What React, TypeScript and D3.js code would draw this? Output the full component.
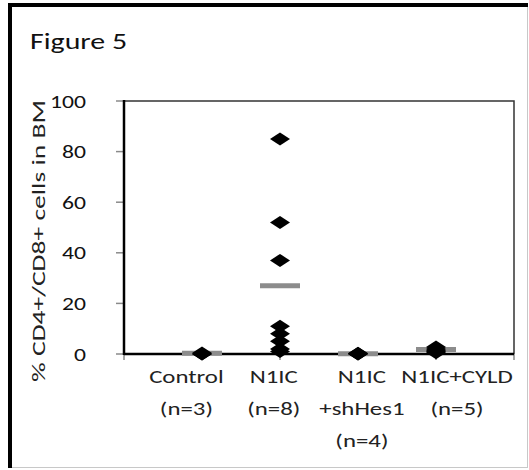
import React from 'react';
import * as d3 from 'd3';

// groups shown along the x axis (x position = 1..4)
const groups = ["Control", "N1IC", "N1IC+shHes1", "N1IC+CYLD"];
const labelLines = [
  ["Control", "(n=3)"],
  ["N1IC", "(n=8)"],
  ["N1IC", "+shHes1", "(n=4)"],
  ["N1IC+CYLD", "(n=5)"],
];
// where the text boxes sit, in x-axis units
const labelPos = [0.8, 1.92, 3.05, 4.27];

// % CD4+/CD8+ cells in BM
const controlVals = [0, 0, 0.4];
const n1icVals = [85, 52, 37, 11, 8, 5, 2, 1];
const shHes1Vals = [0, 0, 0.2, 0.3];
const cyldVals = [2.8, 2, 1.5, 1, 0.5];
const groupMeans = [0.3, 27, 0.1, 1.8];

const yTicks = [0, 20, 40, 60, 80, 100];
const xTicks = [0, 2, 4, 5];

const W = 529, H = 470;
const font = "Carlito, Calibri, Lato, sans-serif";
const SX = 1.38; // the scanned figure is stretched sideways

const App = () => {
  const x = d3.scaleLinear().domain([0, 5]).range([124, 514]);
  const y = d3.scaleLinear().domain([0, 100]).range([354, 101]);

  const series = [controlVals, n1icVals, shHes1Vals, cyldVals];
  const points = series.flatMap((vals, i) => vals.map(v => ({ gx: i + 1, v })));

  const diamond = "M0,-6.5L10,0L0,6.5L-10,0Z";

  return (
    <svg width={W} height={H} style={{ position: 'absolute', left: 0, top: 0, background: '#fff' }}
      fontFamily={font}>
      {/* screenshot frame */}
      <rect x={0} y={0} width={W} height={H} fill="#fff" />
      <rect x={8} y={3} width={W - 9} height={4} fill="#000" />
      <rect x={8} y={3} width={4} height={H - 5} fill="#000" />
      <line x1={527.5} x2={527.5} y1={7} y2={468} stroke="#c8c8c8" />
      <line x1={12} x2={528} y1={467.5} y2={467.5} stroke="#c8c8c8" />

      <text transform={`translate(30,49) scale(1.3,1)`} fontSize={23} fill="#111">Figure 5</text>

      {/* plot frame */}
      <path d={`M${x(0)},${y(100)}H${x(5)}V${y(0)}`} fill="none" stroke="#333" strokeWidth={1.5} />

      {/* y ticks */}
      {yTicks.map(t => (
        <g key={t}>
          <line x1={x(0) - 8} x2={x(0)} y1={y(t)} y2={y(t)} stroke="#8a8a8a" strokeWidth={1.5} />
          <text transform={`translate(86,${y(t)}) scale(1.28,1)`} dy="0.36em" textAnchor="end"
            fontSize={18.5} fill="#111">{t}</text>
        </g>
      ))}
      {/* x ticks */}
      {xTicks.map(t => (
        <line key={t} x1={x(t)} x2={x(t)} y1={y(0)} y2={y(0) + 6} stroke="#8a8a8a" strokeWidth={1.5} />
      ))}

      {/* axes */}
      <line x1={x(0)} x2={x(0)} y1={y(100) - 1} y2={y(0) + 1} stroke="#000" strokeWidth={2.5} />
      <line x1={x(0)} x2={x(5)} y1={y(0)} y2={y(0)} stroke="#000" strokeWidth={2.5} />

      {/* means */}
      {groupMeans.map((m, i) => (
        <line key={i} x1={x(i + 1) - 20} x2={x(i + 1) + 20} y1={y(m)} y2={y(m)}
          stroke="#8c8c8c" strokeWidth={5} />
      ))}

      {/* individual mice */}
      {points.map((p, i) => (
        <path key={i} d={diamond} transform={`translate(${x(p.gx)},${y(p.v)})`} fill="#000" />
      ))}

      {/* category labels */}
      {labelLines.map((lines, i) => (
        <g key={groups[i]}>
          {lines.map((l, j) => (
            <text key={j} transform={`translate(${x(labelPos[i])},${383 + j * 32}) scale(${SX},1)`}
              textAnchor="middle" fontSize={18} fill="#222">{l}</text>
          ))}
        </g>
      ))}

      <text transform={`translate(45,241) rotate(-90) scale(1.45,1)`} textAnchor="middle" fontSize={19} fill="#222">
        % CD4+/CD8+ cells in BM
      </text>
    </svg>
  );
};

export default App;
